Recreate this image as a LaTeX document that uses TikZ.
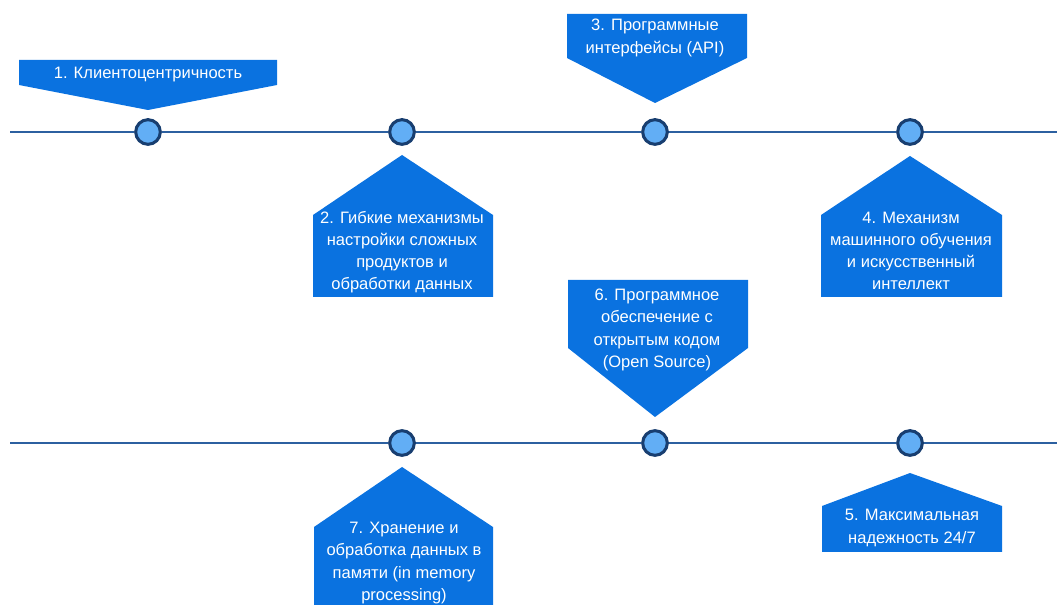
\documentclass[tikz,border=0pt]{standalone}
\usepackage{fontspec}
\setmainfont{Liberation Sans}
\usetikzlibrary{calc}
\definecolor{tagblue}{RGB}{10,114,224}
\definecolor{lineblue}{RGB}{44,96,160}
\definecolor{dotedge}{RGB}{24,62,112}
\definecolor{dotfill}{RGB}{98,174,245}
\tikzset{%
    tl/.style={line width = 2pt, draw=lineblue},
    dot/.style={circle, draw=dotedge, fill=dotfill, line width=2.3pt, minimum size=18.5pt, inner sep=0pt},
    tag/.style={fill=tagblue},
    lbl/.style={text=white, align=center, inner sep=0pt, font=\fontsize{12.4}{16.6}\selectfont},
}

\begin{document}
\begin{tikzpicture}[x=0.75pt,y=-0.75pt]
    \useasboundingbox (0,0) rectangle (1057,605);
    % upper time line
    \coordinate (a0) at (10,132);
    \coordinate (a9) at (1057,132);
    \node [dot] (c1) at (148,132) {};
    \node [dot] (c2) at (402,132) {};
    \node [dot] (c3) at (655,132) {};
    \node [dot] (c4) at (910,132) {};
    \draw [tl] (a0)--(c1)--(c2)--(c3)--(c4)--(a9);
    % lower time line
    \coordinate (b0) at (10,443);
    \coordinate (b9) at (1057,443);
    \node [dot] (c7) at (402,443) {};
    \node [dot] (c6) at (655,443) {};
    \node [dot] (c5) at (910,443) {};
    \draw [tl] (b0)--(c7)--(c6)--(c5)--(b9);
    % callouts
    \fill [tag] (19,60)--(277,60)--(277,85)--(148,110)--(19,85)--cycle;
    \node [lbl] (t1) at (148,75) {1. Клиентоцентричность};
    \fill [tag] (567,14)--(747,14)--(747,58)--(655,103)--(567,58)--cycle;
    \node [lbl] (t3) at (655,38) {3. Программные\\интерфейсы (API)};
    \fill [tag] (402,155)--(493,215)--(493,297)--(313,297)--(313,215)--cycle;
    \node [lbl] (t2) at (402,252) {2. Гибкие механизмы\\настройки сложных\\продуктов и\\обработки данных};
    \fill [tag] (910,156)--(1002,215)--(1002,297)--(821,297)--(821,215)--cycle;
    \node [lbl] (t4) at (911,251) {4. Механизм\\машинного обучения\\и искусственный\\интеллект};
    \fill [tag] (568,280)--(748,280)--(748,348)--(655,417)--(568,348)--cycle;
    \node [lbl] (t6) at (657,330) {6. Программное\\обеспечение с\\открытым кодом\\(Open Source)};
    \fill [tag] (402,467)--(493,527)--(493,605)--(314,605)--(314,527)--cycle;
    \node [lbl] (t7) at (404,563) {7. Хранение и\\обработка данных в\\памяти (in memory\\processing)};
    \fill [tag] (910,473)--(1002,506)--(1002,552)--(822,552)--(822,506)--cycle;
    \node [lbl] (t5) at (912,528) {5. Максимальная\\надежность 24/7};
\end{tikzpicture}
\end{document}
